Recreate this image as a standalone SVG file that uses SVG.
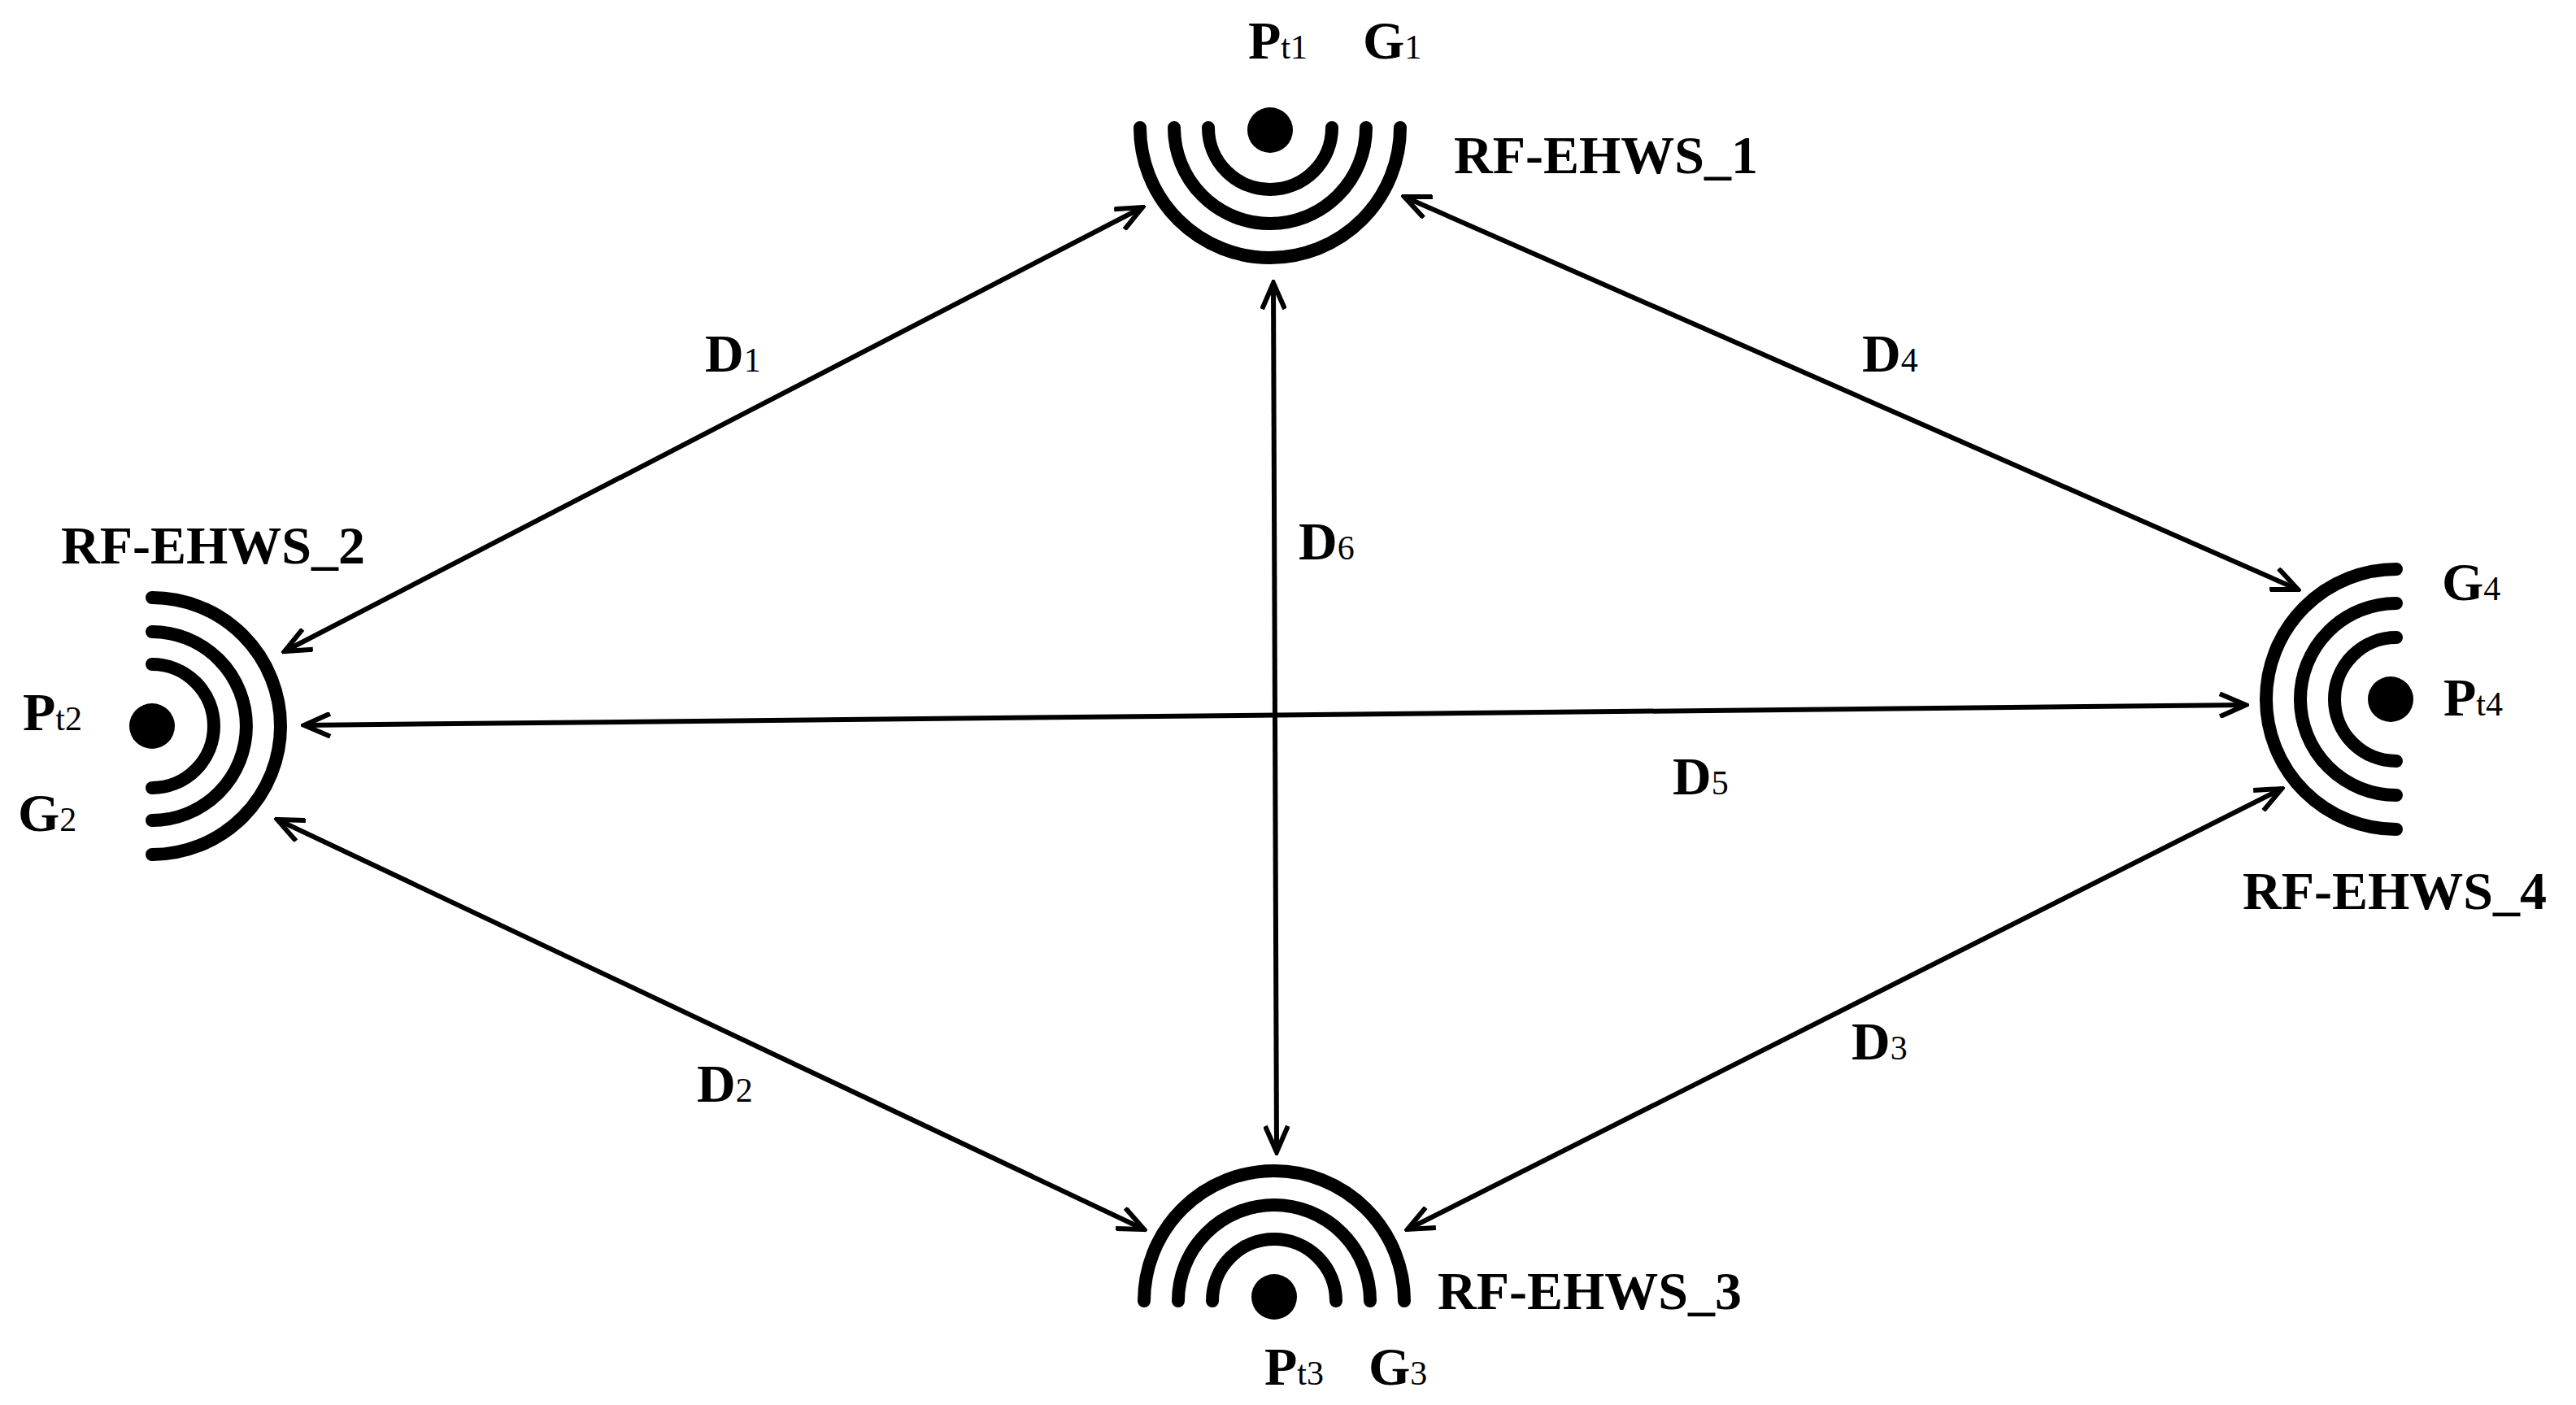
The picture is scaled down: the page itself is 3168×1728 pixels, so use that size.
<svg xmlns="http://www.w3.org/2000/svg" width="3168" height="1728" viewBox="0 0 3168 1728">
<style>
.arc{fill:none;stroke:#000;stroke-width:16;stroke-linecap:round}
.t{font-family:"Liberation Serif","DejaVu Serif",serif;font-weight:bold;font-size:66px;fill:#000}
.s{font-size:42px;font-weight:normal}
.c{fill:none;stroke:#000;stroke-width:6;marker-start:url(#ah);marker-end:url(#ah)}
</style>
<defs>
<marker id="ah" viewBox="-34 -16 38 32" refX="0" refY="0" markerWidth="38" markerHeight="32" markerUnits="userSpaceOnUse" orient="auto-start-reverse">
<path d="M-32,-14 L0,0 L-32,14" fill="none" stroke="#000" stroke-width="6"/>
</marker>
</defs>
<rect width="3168" height="1728" fill="#fff"/>
<g id="connectors">
<line class="c" x1="350" y1="801" x2="1405" y2="255"/>
<line class="c" x1="1727" y1="242" x2="2826" y2="725"/>
<line class="c" x1="1566" y1="348" x2="1570" y2="1417"/>
<line class="c" x1="374" y1="892" x2="2762" y2="867"/>
<line class="c" x1="341" y1="1008" x2="1407" y2="1512"/>
<line class="c" x1="1731" y1="1512" x2="2806" y2="970"/>
</g>
<g id="n1">
<circle cx="1562" cy="160" r="28"/>
<path class="arc" d="M1402,157 A160,160 0 0 0 1722,157 M1444,157 A118,118 0 0 0 1680,157 M1486,157 A76,76 0 0 0 1638,157"/>
<text class="t" x="1535" y="72">P<tspan class="s">t1</tspan></text>
<text class="t" x="1676" y="72">G<tspan class="s">1</tspan></text>
<text class="t" x="1788" y="213">RF-EHWS_1</text>
</g>
<g id="n2">
<circle cx="187" cy="893" r="28"/>
<path class="arc" d="M187,735 A158,158 0 0 1 187,1051 M187,777 A116,116 0 0 1 187,1009 M187,817 A76,76 0 0 1 187,969"/>
<text class="t" x="75" y="693">RF-EHWS_2</text>
<text class="t" x="28" y="898">P<tspan class="s">t2</tspan></text>
<text class="t" x="22" y="1022">G<tspan class="s">2</tspan></text>
</g>
<g id="n3">
<circle cx="1567" cy="1595" r="28"/>
<path class="arc" d="M1407,1600 A160,160 0 0 1 1727,1600 M1449,1600 A118,118 0 0 1 1685,1600 M1491,1600 A76,76 0 0 1 1643,1600"/>
<text class="t" x="1768" y="1610">RF-EHWS_3</text>
<text class="t" x="1555" y="1703">P<tspan class="s">t3</tspan></text>
<text class="t" x="1683" y="1703">G<tspan class="s">3</tspan></text>
</g>
<g id="n4">
<circle cx="2940" cy="860" r="28"/>
<path class="arc" d="M2947,700 A160,160 0 0 0 2947,1020 M2947,742 A118,118 0 0 0 2947,978 M2947,784 A76,76 0 0 0 2947,936"/>
<text class="t" x="3003" y="738">G<tspan class="s">4</tspan></text>
<text class="t" x="3005" y="880">P<tspan class="s">t4</tspan></text>
<text class="t" x="2758" y="1118">RF-EHWS_4</text>
</g>
<g id="labels">
<text class="t" x="867" y="457">D<tspan class="s">1</tspan></text>
<text class="t" x="2290" y="457">D<tspan class="s">4</tspan></text>
<text class="t" x="1597" y="688">D<tspan class="s">6</tspan></text>
<text class="t" x="2057" y="977">D<tspan class="s">5</tspan></text>
<text class="t" x="857" y="1355">D<tspan class="s">2</tspan></text>
<text class="t" x="2277" y="1303">D<tspan class="s">3</tspan></text>
</g>
</svg>
